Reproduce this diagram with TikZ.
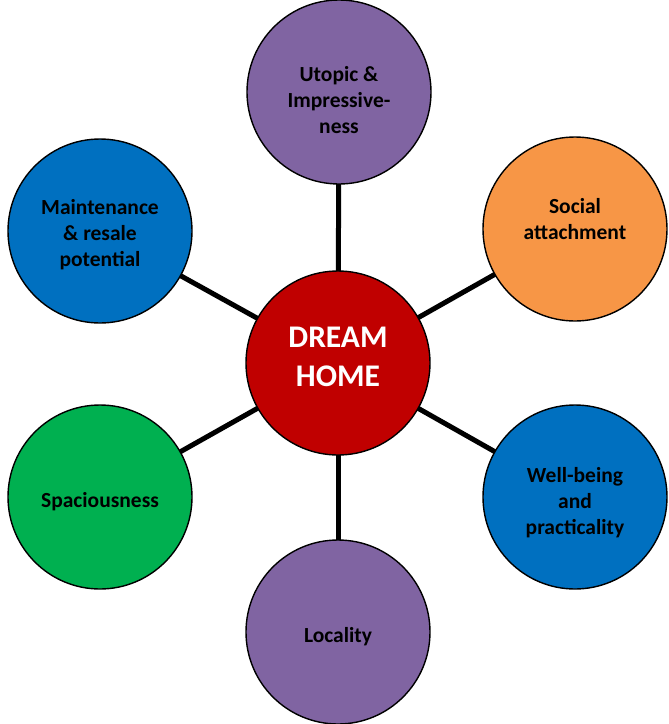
\documentclass[tikz,border=0pt]{standalone}
\usepackage{fontspec}
\setmainfont{Carlito}
\usetikzlibrary{backgrounds}
\begin{document}
\begin{tikzpicture}[x=1pt,y=-1pt,
  bubble/.style={circle,draw=black,line width=1.4pt,minimum size=184pt,inner sep=0pt},
  caption/.style={align=center,inner sep=0pt,text=black,
    font=\bfseries\fontsize{21.5}{26}\selectfont},
  hubcaption/.style={caption,text=white,font=\bfseries\fontsize{31.5}{39}\selectfont},
  spoke/.style={line width=5pt,draw=black}]
\definecolor{hubred}{HTML}{C00000}
\definecolor{lilac}{HTML}{8064A2}
\definecolor{peach}{HTML}{F79646}
\definecolor{ocean}{HTML}{0070C0}
\definecolor{leaf}{HTML}{00B050}
\useasboundingbox (0,0) rectangle (669,724);
% central hub
\node[bubble,fill=hubred,label={[hubcaption,yshift=6pt]center:DREAM\\HOME}] (hub) at (338,363) {};
% outer bubbles
\node[bubble,fill=lilac,label={[caption,yshift=-8.5pt]center:Utopic \&\\Impressive-\\ness}] (top) at (339,92) {};
\node[bubble,fill=peach,label={[caption,yshift=10pt]center:Social\\attachment}] (ne) at (575,229) {};
\node[bubble,fill=ocean,label={[caption,yshift=-6pt]center:Well-being\\and\\practicality}] (se) at (575,497) {};
\node[bubble,fill=lilac,label={[caption,yshift=-5pt]center:Locality}] (bot) at (338,632) {};
\node[bubble,fill=leaf,label={[caption,yshift=-5pt]center:Spaciousness}] (sw) at (100,497) {};
\node[bubble,fill=ocean,label={[caption,yshift=-4pt]center:Maintenance\\\& resale\\potential}] (nw) at (100,231) {};
% spokes behind the bubbles
\begin{scope}[on background layer]
  \foreach \n in {top,ne,se,bot,sw,nw}
    \draw[spoke] (hub.center) -- (\n.center);
\end{scope}
\end{tikzpicture}
\end{document}
